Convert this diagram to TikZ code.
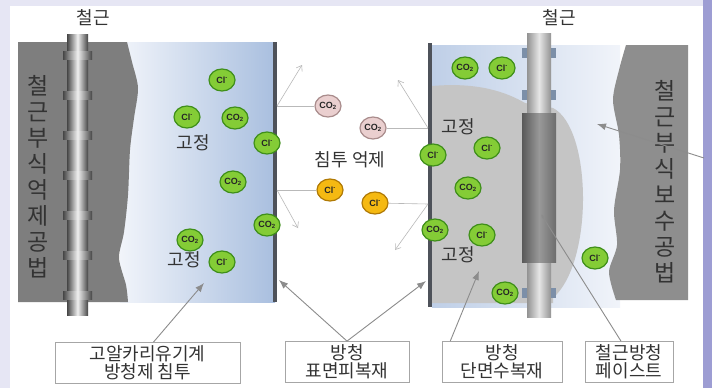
\documentclass[tikz,border=0pt]{standalone}
\usepackage{fontspec}
\setmainfont{Noto Sans CJK KR}
\newfontfamily\ionfont{Liberation Sans}
\usetikzlibrary{shapes,arrows.meta,positioning}

\definecolor{frameblue}{HTML}{E6E6F4}
\definecolor{sidebar}{HTML}{9D9DD3}
\definecolor{concrete}{HTML}{7E7E7E}
\definecolor{oldconc}{HTML}{8E8E8E}
\definecolor{paste}{HTML}{C5C5C5}
\definecolor{coating}{HTML}{4E525A}
\definecolor{inhibit}{HTML}{A9BFDF}
\definecolor{pale}{HTML}{F1F4FA}
\definecolor{ionfill}{HTML}{84CC36}
\definecolor{ionrim}{HTML}{3F8F1A}
\definecolor{rosefill}{HTML}{EACFCF}
\definecolor{roserim}{HTML}{A98C8C}
\definecolor{goldfill}{HTML}{F5B912}
\definecolor{goldrim}{HTML}{B07A06}
\definecolor{ink}{HTML}{333333}
\definecolor{leader}{HTML}{8C8C8C}
\definecolor{lug}{HTML}{7C8FA8}

\tikzset{
  ion/.style={ellipse,minimum width=26pt,minimum height=22pt,inner sep=0pt,
    line width=1.2pt,text=black!85,font=\ionfont\bfseries\fontsize{9}{10}\selectfont},
  greenion/.style={ion,fill=ionfill,draw=ionrim},
  roseion/.style={ion,fill=rosefill,draw=roserim},
  goldion/.style={ion,fill=goldfill,draw=goldrim},
  lbl/.style={text=ink,font=\fontsize{18}{20}\selectfont},
  method/.style={text=ink,align=center,font=\fontsize{23}{26}\selectfont},
  notebox/.style={draw=gray!70,fill=white,line width=.8pt,align=center,
    minimum height=41pt,inner sep=0pt,text=ink,font=\fontsize{18}{18}\selectfont},
  rebar/.style={left color=gray!55!black,right color=gray!55!black,middle color=gray!12},
  newbar/.style={left color=gray!85,right color=gray!85,middle color=gray!20},
  pointer/.style={draw=leader,line width=.9pt,-{Latex[length=9pt,width=7pt]}},
  drift/.style={draw=gray!55,line width=.6pt,-{Straight Barb[length=5pt,width=7pt]}},
  tie/.style={draw=gray!55,line width=.6pt}
}

\begin{document}
\begin{tikzpicture}[x=1pt,y=-1pt]
	\useasboundingbox (0,0) rectangle (712,388);
	% frame
	\fill[frameblue] (0,0) rectangle (712,388);
	\fill[white] (10,6) rectangle (703,388);
	\fill[sidebar] (703,0) rectangle (712,388);

	% left: inhibitor soaked into the cover
	\shade[left color=pale,right color=inhibit] (120,42) rectangle (275,302);
	\fill[concrete] (18,42) -- plot[smooth] coordinates {(127,42) (132,62) (138,88) (134,118) (130,150) (128,195) (124,232) (119,258) (126,285) (128,302)} -- (18,302) -- cycle;
	\fill[coating] (273,42) rectangle (277,302);
	\shade[rebar] (67,34) rectangle (88,315);
	\foreach \y in {55,95,...,295}
		\shade[rebar] (63,\y-4) rectangle (92,\y+4);

	% right: patch repair around the bar
	\shade[left color=inhibit!70!pale,right color=pale] (432,45) rectangle (620,307);
	\fill[paste] (432,86) .. controls (478,82) and (506,92) .. (525,103) -- (553,108) .. controls (592,128) and (594,262) .. (553,298) -- (553,303) -- (432,303) -- cycle;
	\fill[oldconc] plot[smooth] coordinates {(626,45) (619,70) (613,100) (619,135) (620,170) (614,210) (617,245) (609,272) (616,300)} -- (688,300) -- (688,45) -- cycle;
	\fill[coating] (428,43) rectangle (432,307);
	\shade[newbar] (527,33) rectangle (551,115);
	\shade[newbar] (527,262) rectangle (551,317);
	\foreach \y in {53,95,293} {
		\fill[lug] (522,\y-5) rectangle (527,\y+5);
		\fill[lug] (551,\y-5) rectangle (556,\y+5);
	}
	\shade[left color=gray!70!black,right color=gray!85!black,middle color=gray!80] (522,113) rectangle (556,262);

	% labels
	\node[lbl] (barL) at (93,18) {철근};
	\node[lbl] (barR) at (559,18) {철근};
	\node[method] (methodL) at (38,177) {철\\근\\부\\식\\억\\제\\공\\법};
	\node[method] (methodR) at (665,182) {철\\근\\부\\식\\보\\수\\공\\법};
	\node[lbl] (fixL1) at (193,143) {고정};
	\node[lbl] (fixL2) at (184,260) {고정};
	\node[lbl] (fixR1) at (458,127) {고정};
	\node[lbl] (fixR2) at (458,255) {고정};
	\node[lbl] (block) at (350,160) {침투\ 억제};

	% bound ions
	\foreach \n/\x/\y in {1/222/80,2/187/117,3/267/143,4/222/262,5/502/68,6/487/148,7/433/155,8/482/235,9/595/258}
		\node[greenion] (cl\n) at (\x,\y) {Cl\textsuperscript{-}};
	\foreach \n/\x/\y in {1/235/118,2/233/182,3/267/225,4/190/240,5/465/68,6/468/188,7/435/230,8/505/293}
		\node[greenion] (co\n) at (\x,\y) {CO\textsubscript{2}};

	% kept out at the surface
	\node[roseion] (coa) at (328,106) {CO\textsubscript{2}};
	\node[roseion] (cob) at (373,128) {CO\textsubscript{2}};
	\node[goldion] (cla) at (330,190) {Cl\textsuperscript{-}};
	\node[goldion] (clb) at (375,203) {Cl\textsuperscript{-}};
	\coordinate (wl1) at (277,106);
	\coordinate (wl2) at (277,190);
	\coordinate (wr1) at (428,128);
	\coordinate (wr2) at (428,204);
	\coordinate (outl1) at (302,65);
	\coordinate (outl2) at (298,228);
	\coordinate (outr1) at (398,80);
	\coordinate (outr2) at (395,250);
	\draw[tie] (wl1) -- (coa);
	\draw[tie] (wl2) -- (cla);
	\draw[tie] (cob) -- (wr1);
	\draw[tie] (clb) -- (wr2);
	\draw[drift] (wl1) -- (outl1);
	\draw[drift] (wl2) -- (outl2);
	\draw[drift] (wr1) -- (outr1);
	\draw[drift] (wr2) -- (outr2);

	% materials
	\node[notebox,minimum width=185pt] (boxA) at (147.5,363) {고알카리유기계\\방청제 침투};
	\node[notebox,minimum width=124pt] (boxB) at (347,362) {방청\\표면피복재};
	\node[notebox,minimum width=120pt] (boxC) at (502,362) {방청\\단면수복재};
	\node[notebox,minimum width=88pt] (boxD) at (629,362) {철근방청\\페이스트};
	\coordinate (tipA) at (204,283);
	\coordinate (tipB1) at (279,280);
	\coordinate (tipB2) at (426,281);
	\coordinate (tipC) at (479,271);
	\coordinate (tipD) at (541,214);
	\coordinate (edge) at (704,158);
	\coordinate (tipE) at (597,124);
	\draw[pointer] (boxA.74) -- (tipA);
	\draw[pointer] (boxB.north) -- (tipB1);
	\draw[pointer] (boxB.north) -- (tipB2);
	\draw[pointer] (boxC.158) -- (tipC);
	\draw[pointer,-{Latex[length=4pt,width=3pt]}] (boxD.111) -- (tipD);
	\draw[pointer] (edge) -- (tipE);
\end{tikzpicture}
\end{document}
